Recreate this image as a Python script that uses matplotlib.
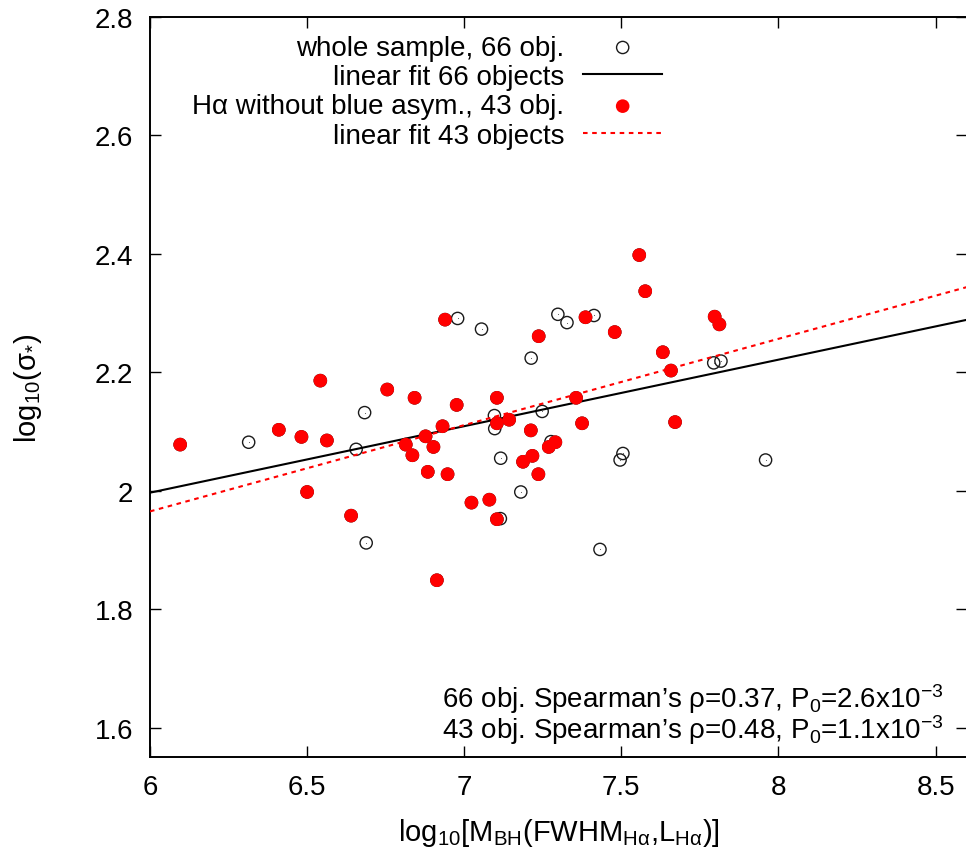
import numpy as np
import matplotlib
matplotlib.use("Agg")
import matplotlib.pyplot as plt
from matplotlib.ticker import FuncFormatter

# ---- values ----
# H-alpha without blue asymmetry (43 obj.)
red_x = [6.096, 6.939, 6.542, 6.755, 6.842, 6.976, 6.410, 6.482, 6.563, 6.931,
         6.877, 6.814, 6.902, 6.835, 6.884, 6.947, 6.500, 6.640, 6.913,
         7.557, 7.576, 7.386, 7.797, 7.812, 7.479, 7.237, 7.632, 7.658, 7.104,
         7.356, 7.143, 7.104, 7.375, 7.671, 7.212, 7.290, 7.269, 7.217, 7.187,
         7.236, 7.023, 7.080, 7.104]
red_y = [2.078, 2.289, 2.186, 2.171, 2.157, 2.145, 2.103, 2.091, 2.085, 2.109,
         2.092, 2.078, 2.074, 2.060, 2.032, 2.028, 1.998, 1.958, 1.849,
         2.398, 2.337, 2.293, 2.294, 2.281, 2.268, 2.261, 2.234, 2.203, 2.157,
         2.157, 2.120, 2.114, 2.114, 2.116, 2.102, 2.082, 2.074, 2.059, 2.049,
         2.028, 1.980, 1.985, 1.952]

# remaining objects of the whole sample (23 obj.)
rest_x = [6.979, 6.683, 6.314, 6.656, 6.688, 7.298, 7.327, 7.413, 7.055, 7.213,
          7.794, 7.817, 7.248, 7.096, 7.097, 7.276, 7.505, 7.496, 7.116, 7.959,
          7.180, 7.115, 7.432]
rest_y = [2.291, 2.132, 2.082, 2.070, 1.912, 2.298, 2.284, 2.296, 2.273, 2.224,
          2.216, 2.219, 2.134, 2.127, 2.105, 2.083, 2.063, 2.052, 2.055, 2.052,
          1.998, 1.953, 1.901]

# linear fits: (slope, intercept)
fit66 = (0.1123, 1.323)
fit43 = (0.1457, 1.091)

spearman_lines = [
    "66 obj. Spearman\u2019s \u03c1=0.37, P$_0$=2.6x10$^{-3}$",
    "43 obj. Spearman\u2019s \u03c1=0.48, P$_0$=1.1x10$^{-3}$",
]

x_ticks = [6, 6.5, 7, 7.5, 8, 8.5]
y_ticks = [1.6, 1.8, 2.0, 2.2, 2.4, 2.6, 2.8]

FS = 20

plt.rcParams["font.family"] = ["Liberation Sans", "DejaVu Sans"]
plt.rcParams["mathtext.fontset"] = "custom"
plt.rcParams["mathtext.rm"] = "Liberation Sans"
plt.rcParams["mathtext.it"] = "Liberation Sans:italic"
plt.rcParams["mathtext.bf"] = "Liberation Sans:bold"


def main():
    whole_x = np.array(rest_x + red_x)
    whole_y = np.array(rest_y + red_y)

    fig = plt.figure(figsize=(9.66, 8.53), dpi=100)
    ax = fig.add_axes([150 / 966, (853 - 758.3) / 853, 817 / 966, 740.3 / 853])

    xx = np.array([6.0, 8.6])

    ax.scatter(whole_x, whole_y, s=8.8 ** 2, facecolors="none", edgecolors="#1a1a1a",
               linewidths=1.0, zorder=3, label="whole sample, 66 obj.")
    ax.scatter(whole_x, whole_y, s=0.6, c="#555555", marker="o", linewidths=0, zorder=3)
    ax.plot(xx, fit66[0] * xx + fit66[1], color="black", lw=1.5, zorder=4,
            label="linear fit 66 objects")
    ax.scatter(red_x, red_y, s=9.8 ** 2, c="#ff0000", edgecolors="none", zorder=5,
               label="H\u03b1 without blue asym., 43 obj.")
    ax.plot(xx, fit43[0] * xx + fit43[1], color="#ff0000", lw=1.5,
            linestyle=(0, (2.2, 2.2)), zorder=6, label="linear fit 43 objects")

    ax.set_xlim(6, 8.6)
    ax.set_ylim(1.55, 2.8)
    ax.set_xticks(x_ticks)
    ax.set_yticks(y_ticks)
    fmt = FuncFormatter(lambda v, p: f"{v:g}")
    ax.xaxis.set_major_formatter(fmt)
    ax.yaxis.set_major_formatter(fmt)
    ax.tick_params(direction="in", length=8, width=1, top=True, right=True,
                   labelsize=FS)
    ax.tick_params(axis="x", pad=12)
    ax.tick_params(axis="y", pad=12)
    for sp in ax.spines.values():
        sp.set_linewidth(1.4)

    ax.set_xlabel("log$_{10}$[M$_{\\mathrm{BH}}$(FWHM$_{\\mathrm{H\u03b1}}$,L$_{\\mathrm{H\u03b1}}$)]",
                  fontsize=21)
    ax.set_ylabel("log$_{10}$(\u03c3$_{*}$)", fontsize=21)
    ax.xaxis.set_label_coords(0.5, -0.079)
    ax.yaxis.set_label_coords(-0.13, 0.5)

    ax.legend(loc="upper right", bbox_to_anchor=(0.627, 0.976), frameon=False,
              markerfirst=False, fontsize=FS, handlelength=2.85, handletextpad=0.67,
              labelspacing=0.12, borderpad=0, borderaxespad=0, scatterpoints=1)

    # both Spearman lines in one text block, right aligned
    ax.text(0.972, 0.0262, "\n".join(spearman_lines), transform=ax.transAxes,
            ha="right", va="baseline", fontsize=FS, linespacing=0.9,
            multialignment="right")

    fig.savefig("out.png", dpi=100)
    plt.close(fig)


if __name__ == "__main__":
    main()
